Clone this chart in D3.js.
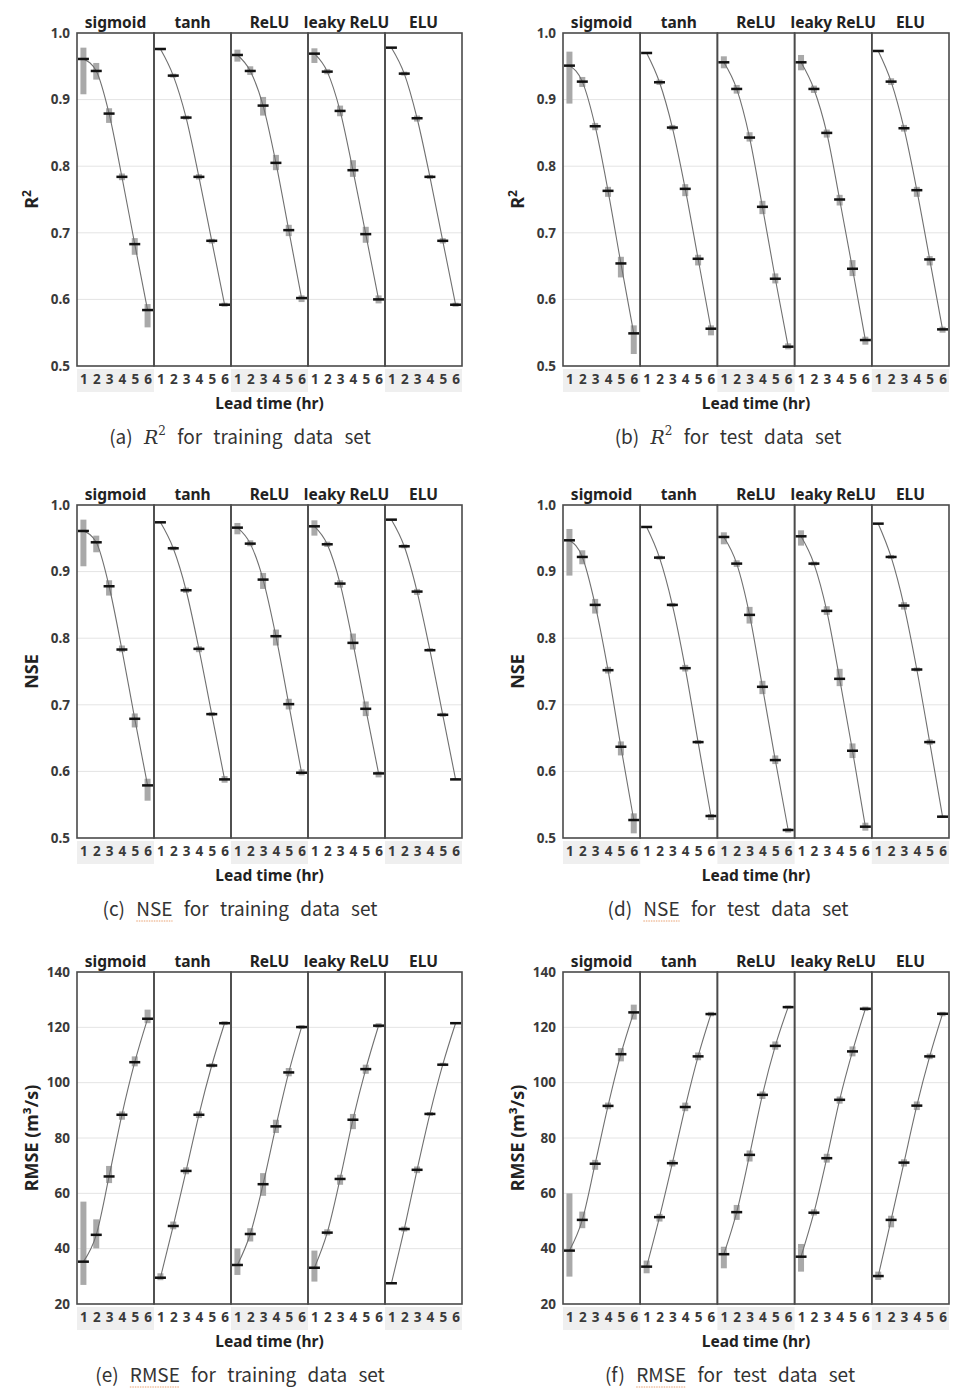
<!DOCTYPE html>
<meta charset="utf-8">
<style>
body { margin: 0; background: #fff; }
text { font-family: "Noto Sans", sans-serif; }
.tick text { font: bold 13.5px "Noto Sans", sans-serif; fill: #3a3a3a; }
.facet-title { font-size: 15.5px; font-weight: bold; fill: #222; }
.axis-title { font-size: 15.5px; font-weight: bold; fill: #222; }
.caption { font-family: "Noto Sans CJK KR", "Noto Sans", sans-serif; font-size: 19px; fill: #333; word-spacing: 7px; }
</style>
<body>
<script src="https://cdn.jsdelivr.net/npm/d3@7"></script>
<script>
var activations = ["sigmoid", "tanh", "ReLU", "leaky ReLU", "ELU"];
var leadTimes = [1, 2, 3, 4, 5, 6];

// (a) R2 training
var r2TrainMean = [[0.961,0.943,0.879,0.784,0.683,0.584],[0.976,0.936,0.873,0.784,0.688,0.592],[0.967,0.943,0.891,0.805,0.704,0.602],[0.969,0.942,0.883,0.794,0.698,0.600],[0.978,0.939,0.872,0.784,0.688,0.592]];
var r2TrainLo = [[0.908,0.930,0.865,0.779,0.667,0.558],[0.974,0.933,0.870,0.780,0.684,0.589],[0.957,0.937,0.876,0.794,0.695,0.596],[0.955,0.938,0.875,0.784,0.685,0.594],[0.977,0.936,0.867,0.781,0.684,0.589]];
var r2TrainHi = [[0.978,0.955,0.887,0.789,0.692,0.593],[0.977,0.939,0.876,0.788,0.691,0.595],[0.975,0.950,0.904,0.817,0.712,0.606],[0.977,0.946,0.891,0.809,0.709,0.606],[0.979,0.942,0.876,0.787,0.692,0.595]];
// (b) R2 test
var r2TestMean = [[0.951,0.927,0.860,0.763,0.654,0.549],[0.970,0.926,0.858,0.766,0.661,0.556],[0.956,0.916,0.843,0.739,0.631,0.529],[0.956,0.916,0.850,0.750,0.646,0.539],[0.973,0.927,0.857,0.764,0.660,0.555]];
var r2TestLo = [[0.894,0.919,0.854,0.754,0.633,0.518],[0.969,0.922,0.854,0.755,0.651,0.546],[0.947,0.909,0.837,0.728,0.624,0.525],[0.944,0.910,0.843,0.741,0.635,0.532],[0.972,0.922,0.852,0.754,0.651,0.550]];
var r2TestHi = [[0.972,0.934,0.865,0.769,0.664,0.561],[0.971,0.930,0.862,0.773,0.667,0.561],[0.965,0.922,0.851,0.748,0.639,0.534],[0.967,0.921,0.855,0.757,0.659,0.544],[0.974,0.932,0.862,0.769,0.665,0.559]];
// (c) NSE training
var nseTrainMean = [[0.961,0.944,0.878,0.783,0.679,0.579],[0.974,0.935,0.872,0.784,0.686,0.588],[0.966,0.942,0.888,0.803,0.701,0.598],[0.968,0.941,0.882,0.793,0.694,0.597],[0.978,0.938,0.870,0.782,0.685,0.588]];
var nseTrainLo = [[0.908,0.929,0.864,0.779,0.666,0.556],[0.973,0.932,0.868,0.779,0.683,0.583],[0.956,0.938,0.874,0.789,0.693,0.594],[0.954,0.937,0.876,0.783,0.683,0.591],[0.977,0.935,0.865,0.780,0.682,0.587]];
var nseTrainHi = [[0.978,0.954,0.887,0.789,0.687,0.589],[0.975,0.938,0.876,0.788,0.689,0.593],[0.973,0.947,0.898,0.813,0.709,0.603],[0.977,0.945,0.887,0.807,0.705,0.600],[0.979,0.941,0.874,0.785,0.688,0.590]];
// (d) NSE test
var nseTestMean = [[0.947,0.922,0.850,0.752,0.637,0.527],[0.967,0.921,0.850,0.755,0.644,0.533],[0.952,0.912,0.835,0.727,0.617,0.512],[0.953,0.912,0.841,0.739,0.631,0.517],[0.972,0.922,0.849,0.753,0.644,0.532]];
var nseTestLo = [[0.894,0.911,0.837,0.747,0.624,0.507],[0.966,0.918,0.847,0.750,0.641,0.527],[0.941,0.907,0.822,0.716,0.611,0.508],[0.939,0.909,0.835,0.728,0.620,0.511],[0.971,0.919,0.843,0.750,0.640,0.530]];
var nseTestHi = [[0.964,0.932,0.859,0.757,0.645,0.537],[0.968,0.924,0.853,0.760,0.647,0.536],[0.959,0.917,0.847,0.736,0.624,0.515],[0.962,0.915,0.848,0.754,0.642,0.523],[0.973,0.925,0.854,0.756,0.648,0.534]];
// (e) RMSE training
var rmseTrainMean = [[35.3,45.0,66.1,88.4,107.4,123.1],[29.5,48.2,68.1,88.4,106.2,121.5],[34.1,45.3,63.3,84.2,103.7,120.1],[33.1,45.8,65.2,86.6,104.9,120.6],[27.5,47.1,68.5,88.7,106.5,121.5]];
var rmseTrainLo = [[26.9,40.1,63.7,86.6,105.9,121.5],[28.6,47.0,66.9,87.2,105.5,120.8],[30.5,42.6,59.1,81.8,102.3,119.4],[28.1,44.8,63.1,83.2,103.2,119.8],[27.2,46.2,67.3,88.0,106.0,121.2]];
var rmseTrainHi = [[57.0,50.6,69.9,89.6,109.5,126.4],[31.1,49.8,69.4,89.6,107.0,122.2],[40.1,47.4,67.3,86.6,105.3,120.8],[39.3,47.0,66.7,88.7,106.5,121.5],[27.8,48.0,69.7,89.4,107.2,121.8]];
// (f) RMSE test
var rmseTestMean = [[39.3,50.4,70.7,91.6,110.3,125.4],[33.5,51.4,70.9,91.2,109.5,124.8],[38.0,53.2,73.9,95.6,113.3,127.3],[37.1,53.0,72.7,93.8,111.3,126.7],[30.1,50.4,71.1,91.7,109.5,124.9]];
var rmseTestLo = [[29.9,47.4,68.5,90.4,107.7,122.8],[31.1,49.8,69.7,89.7,108.1,124.0],[32.9,50.4,71.5,94.1,111.9,126.8],[31.7,52.0,71.1,92.4,109.5,125.9],[28.7,47.7,69.7,90.1,108.5,124.0]];
var rmseTestHi = [[60.0,53.4,72.1,92.8,112.5,128.2],[35.7,52.6,72.1,92.8,110.9,125.6],[40.7,55.8,75.5,96.8,114.9,127.9],[41.7,54.2,74.3,95.0,113.1,127.5],[31.7,51.9,72.3,93.2,110.5,125.6]];

var r2Ticks = [0.5, 0.6, 0.7, 0.8, 0.9, 1.0];
var rmseTicks = [20, 40, 60, 80, 100, 120, 140];

var svg = d3.select("body").append("svg")
    .attr("width", 976)
    .attr("height", 1397);

var panels = [
    {x0: 77, x1: 462, y0: 33, y1: 366, dom: [0.5, 1.0], ticks: r2Ticks, fmt: ".1f", mean: r2TrainMean, lo: r2TrainLo, hi: r2TrainHi, yl: "R2", letter: "(a)", cap: ["R2", "for training data set"], cx: 240},
    {x0: 563, x1: 949, y0: 33, y1: 366, dom: [0.5, 1.0], ticks: r2Ticks, fmt: ".1f", mean: r2TestMean, lo: r2TestLo, hi: r2TestHi, yl: "R2", letter: "(b)", cap: ["R2", "for test data set"], cx: 728},
    {x0: 77, x1: 462, y0: 505, y1: 838, dom: [0.5, 1.0], ticks: r2Ticks, fmt: ".1f", mean: nseTrainMean, lo: nseTrainLo, hi: nseTrainHi, yl: "NSE", letter: "(c)", cap: ["NSE", "for training data set"], cx: 240},
    {x0: 563, x1: 949, y0: 505, y1: 838, dom: [0.5, 1.0], ticks: r2Ticks, fmt: ".1f", mean: nseTestMean, lo: nseTestLo, hi: nseTestHi, yl: "NSE", letter: "(d)", cap: ["NSE", "for test data set"], cx: 728},
    {x0: 77, x1: 462, y0: 972, y1: 1304, dom: [20, 140], ticks: rmseTicks, fmt: "d", mean: rmseTrainMean, lo: rmseTrainLo, hi: rmseTrainHi, yl: "RMSE", letter: "(e)", cap: ["RMSE", "for training data set"], cx: 240},
    {x0: 563, x1: 949, y0: 972, y1: 1304, dom: [20, 140], ticks: rmseTicks, fmt: "d", mean: rmseTestMean, lo: rmseTestLo, hi: rmseTestHi, yl: "RMSE", letter: "(f)", cap: ["RMSE", "for test data set"], cx: 730}
];

panels.forEach(drawPanel);

function drawPanel(p) {
    var g = svg.append("g");
    var fx = d3.scaleBand().domain(activations).range([p.x0, p.x1]).padding(0);
    var lx = d3.scalePoint().domain(leadTimes).range([0, fx.bandwidth()]).padding(0.5);
    var y = d3.scaleLinear().domain(p.dom).range([p.y1, p.y0]);

    // strip behind the lead time labels
    activations.forEach(function(a, i) {
        if (i % 2 == 0) {
            g.append("rect")
                .attr("x", fx(a)).attr("y", p.y1 + 3)
                .attr("width", fx.bandwidth()).attr("height", 23)
                .attr("fill", "#efefef");
        }
    });

    // grid
    g.selectAll(".grid").data(p.ticks.slice(1, -1)).enter().append("line")
        .attr("x1", p.x0).attr("x2", p.x1)
        .attr("y1", function(d) { return y(d); })
        .attr("y2", function(d) { return y(d); })
        .attr("stroke", "#e4e4e4").attr("stroke-width", 1);

    var yAxis = g.append("g")
        .attr("transform", "translate(" + p.x0 + ",0)")
        .call(d3.axisLeft(y).tickValues(p.ticks).tickSize(0).tickPadding(7).tickFormat(d3.format(p.fmt)));
    yAxis.select(".domain").remove();

    var line = d3.line()
        .x(function(d, i) { return lx(leadTimes[i]); })
        .y(function(d) { return y(d); })
        .curve(d3.curveMonotoneX);

    activations.forEach(function(a, k) {
        var fg = g.append("g").attr("transform", "translate(" + fx(a) + ",0)");

        // range bars
        fg.selectAll(".rng").data(leadTimes).enter().append("rect")
            .attr("x", function(t) { return lx(t) - 3; })
            .attr("width", 6)
            .attr("y", function(t, i) { return y(p.hi[k][i]); })
            .attr("height", function(t, i) { return Math.max(1, y(p.lo[k][i]) - y(p.hi[k][i])); })
            .attr("fill", "#a9a9a9");

        fg.append("path")
            .attr("d", line(p.mean[k]))
            .attr("fill", "none")
            .attr("stroke", "#707070")
            .attr("stroke-width", 1.1);

        // mean dash
        fg.selectAll(".mean").data(leadTimes).enter().append("rect")
            .attr("x", function(t) { return lx(t) - 5.5; })
            .attr("width", 11)
            .attr("y", function(t, i) { return y(p.mean[k][i]) - 1.25; })
            .attr("height", 2.5)
            .attr("fill", "#111");

        // facet border
        fg.append("rect")
            .attr("x", 0).attr("y", p.y0)
            .attr("width", fx.bandwidth()).attr("height", p.y1 - p.y0)
            .attr("fill", "none").attr("stroke", "#4a4a4a").attr("stroke-width", 1.6);

        var xAxis = fg.append("g")
            .attr("transform", "translate(0," + p.y1 + ")")
            .call(d3.axisBottom(lx).tickSize(0).tickPadding(8));
        xAxis.select(".domain").remove();

        g.append("text")
            .attr("class", "facet-title")
            .attr("x", fx(a) + fx.bandwidth() / 2)
            .attr("y", p.y0 - 5)
            .attr("text-anchor", "middle")
            .text(a);
    });

    // y title
    var yt = g.append("text")
        .attr("class", "axis-title")
        .attr("transform", "translate(" + (p.x0 - 39) + "," + ((p.y0 + p.y1) / 2) + ") rotate(-90)")
        .attr("text-anchor", "middle")
        .style("font-size", "18px");
    if (p.yl == "R2") {
        yt.append("tspan").text("R");
        yt.append("tspan").attr("dy", -7).style("font-size", "12px").text("2");
    } else if (p.yl == "RMSE") {
        yt.text("RMSE (m\u00b3/s)");
    } else {
        yt.text(p.yl);
    }

    g.append("text")
        .attr("class", "axis-title")
        .attr("x", (p.x0 + p.x1) / 2)
        .attr("y", p.y1 + 43)
        .attr("text-anchor", "middle")
        .text("Lead time (hr)");

    // caption
    var cap = g.append("text")
        .attr("class", "caption")
        .attr("x", p.cx)
        .attr("y", p.y1 + 78)
        .attr("text-anchor", "middle");
    cap.append("tspan").text(p.letter + " ");
    var word;
    if (p.cap[0] == "R2") {
        cap.append("tspan").style("font-family", "'DejaVu Serif', serif").style("font-style", "italic").text("R");
        cap.append("tspan").attr("dy", -9).style("font-family", "'DejaVu Serif', serif").style("font-size", "12px").text("2");
        cap.append("tspan").attr("dy", 9).text(" " + p.cap[1]);
    } else {
        word = cap.append("tspan").text(p.cap[0]);
        cap.append("tspan").text(" " + p.cap[1]);
        var bb = word.node().getBBox();
        g.append("line")
            .attr("x1", bb.x).attr("x2", bb.x + bb.width)
            .attr("y1", p.y1 + 83).attr("y2", p.y1 + 83)
            .attr("stroke", "#e8a070").attr("stroke-width", 1)
            .attr("stroke-dasharray", "1.5,1");
    }
}
</script>
</body>
